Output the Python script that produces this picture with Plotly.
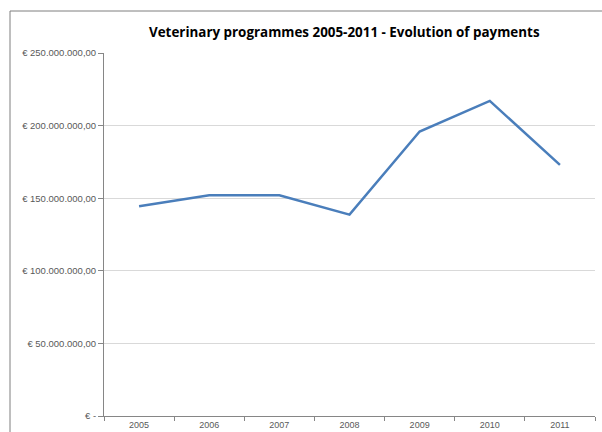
import plotly.graph_objects as go

years = ["2005", "2006", "2007", "2008", "2009", "2010", "2011"]
payments = [144500000, 152000000, 152000000, 138700000, 195900000, 217000000, 172900000]
y_tick_values = [0, 50000000, 100000000, 150000000, 200000000, 250000000]
y_tick_labels = ["€ -", "€ 50.000.000,00", "€ 100.000.000,00", "€ 150.000.000,00",
                 "€ 200.000.000,00", "€ 250.000.000,00"]
title_text = "Veterinary programmes 2005-2011 - Evolution of payments"

W, H = 602, 432
L, R, T, B = 104, 7, 53, 16
pw, ph = W - L - R, H - T - B

def px_x(px):
    return (px - L) / pw

def px_y(py):
    return (H - B - py) / ph

fig = go.Figure()
fig.add_trace(go.Scatter(
    x=years, y=payments, mode="lines",
    line=dict(color="#4A7EBB", width=2.5),
    showlegend=False, hoverinfo="skip",
))

fig.update_layout(
    width=W, height=H,
    margin=dict(l=L, r=R, t=T, b=B, autoexpand=False),
    paper_bgcolor="white", plot_bgcolor="white",
    font=dict(family="Liberation Sans", color="#595959"),
    xaxis=dict(
        type="category", range=[-0.5, 6.5], automargin=False,
        tickson="boundaries", ticks="outside", ticklen=4, tickcolor="#868686",
        showline=True, linecolor="#868686", linewidth=1,
        showgrid=False, tickfont=dict(size=9, color="#595959"),
        fixedrange=True,
    ),
    yaxis=dict(
        range=[0, 250000000], tickvals=y_tick_values, ticktext=y_tick_labels,
        automargin=False,
        ticks="outside", ticklen=5, tickcolor="#868686",
        showline=True, linecolor="#868686", linewidth=1,
        showgrid=True, gridcolor="#d9d9d9", gridwidth=1.3,
        zeroline=False, tickfont=dict(size=9.5, color="#595959"),
        fixedrange=True,
    ),
    shapes=[dict(
        type="rect", xref="paper", yref="paper",
        x0=px_x(10), x1=px_x(700), y0=px_y(500), y1=px_y(11),
        line=dict(color="#7f7f7f", width=1), fillcolor="rgba(0,0,0,0)", layer="below",
    )],
    annotations=[dict(
        text="<b>" + title_text + "</b>", xref="paper", yref="paper",
        x=px_x(344), y=px_y(32), xanchor="center", yanchor="middle",
        showarrow=False, font=dict(family="Open Sans", size=13.4, color="#000000"),
    )],
)

fig.write_html("out.html", config={"displayModeBar": False},
               post_script="document.body.style.margin='0';")
